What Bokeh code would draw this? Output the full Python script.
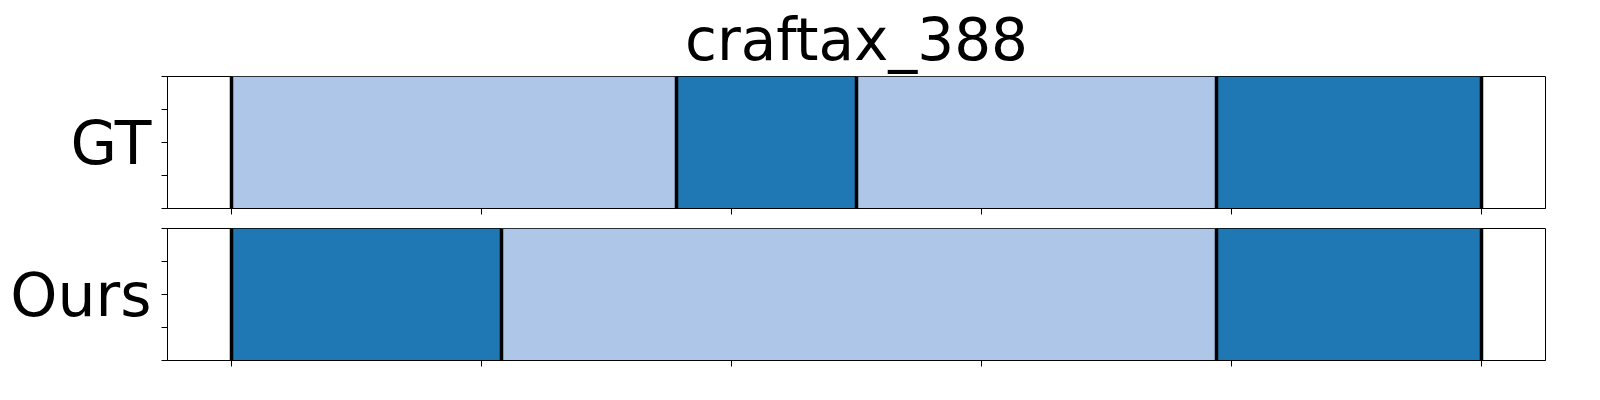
from bokeh.plotting import figure
from bokeh.layouts import column
from bokeh.models import FixedTicker, CustomJSTickFormatter
from bokeh.embed import file_html
from bokeh.resources import INLINE

LIGHT = "#aec7e8"
DARK = "#1f77b4"

gt_starts = [0, 89, 125, 197]
gt_ends = [89, 125, 197, 250]
gt_colors = [LIGHT, DARK, LIGHT, DARK]

ours_starts = [0, 54, 197]
ours_ends = [54, 197, 250]
ours_colors = [DARK, LIGHT, DARK]

x_ticks = [0, 50, 100, 150, 200, 250]
y_ticks = [0, 0.25, 0.5, 0.75, 1.0]


def panel(label, starts, ends, colors, top, bottom, title=None):
    p = figure(frame_width=1378, frame_height=132, x_range=(-12.8, 262.8), y_range=(0, 1),
               output_backend="svg", toolbar_location=None, title=title,
               min_border_left=167, min_border_right=30, min_border_top=top, min_border_bottom=bottom)
    p.quad(left=starts, right=ends, bottom=0, top=1, fill_color=colors, line_color=None)
    edges = sorted(set(starts + ends))
    p.segment(x0=edges, x1=edges, y0=0, y1=1, line_color="black", line_width=3.5)
    p.grid.visible = False
    p.outline_line_color = "black"
    p.outline_line_width = 1
    p.xaxis.ticker = FixedTicker(ticks=x_ticks)
    p.yaxis.ticker = FixedTicker(ticks=y_ticks)
    for ax in (p.xaxis, p.yaxis):
        ax.formatter = CustomJSTickFormatter(code="return ''")
        ax.minor_tick_line_color = None
        ax.major_tick_out = 6
        ax.major_tick_in = 0
        ax.axis_line_color = "black"
        ax.major_tick_line_color = "black"
    p.yaxis.axis_label = label
    p.yaxis.axis_label_orientation = "horizontal"
    p.yaxis.axis_label_text_font_size = "60px"
    p.yaxis.axis_label_text_font = "DejaVu Sans"
    p.yaxis.axis_label_text_font_style = "normal"
    p.yaxis.axis_label_text_color = "black"
    p.yaxis.axis_label_standoff = 10
    return p


p1 = panel("GT", gt_starts, gt_ends, gt_colors, 0, 10, title="craftax_388")
p1.title.align = "center"
p1.title.text_font_size = "58px"
p1.title.text_font = "DejaVu Sans"
p1.title.text_font_style = "normal"
p1.title.text_color = "black"
p1.title.standoff = 6
p2 = panel("Ours", ours_starts, ours_ends, ours_colors, 10, 14)

p = column(p1, p2)
open("out.html", "w").write(file_html(p, INLINE))
